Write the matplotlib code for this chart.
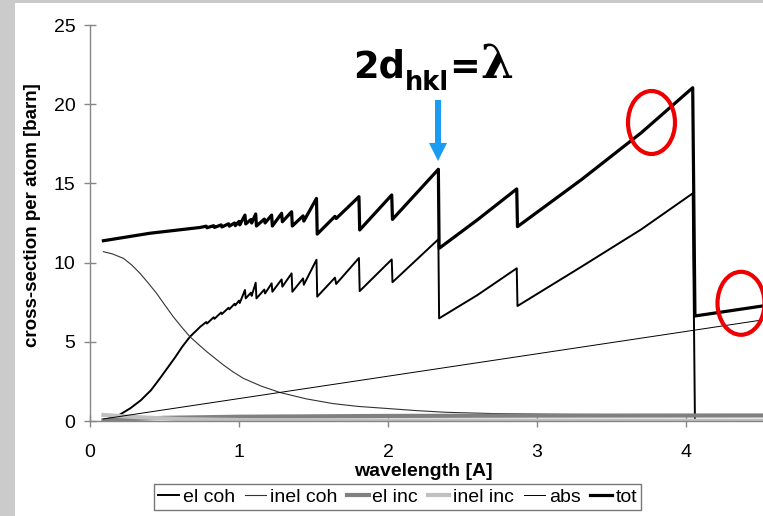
import numpy as np
import matplotlib
matplotlib.use("Agg")
import matplotlib.pyplot as plt
from matplotlib.patches import Ellipse, Rectangle

plt.rcParams['font.family'] = ['Liberation Sans', 'DejaVu Sans']

# wavelength [A] / cross-section [barn]
tot_x = [0.09, 0.40, 0.74, 0.78, 0.785, 0.83, 0.835, 0.88, 0.885, 0.93, 0.935, 0.97, 0.975,
         1.00, 1.005, 1.04, 1.045, 1.08, 1.085, 1.112, 1.117, 1.17, 1.175, 1.219, 1.224,
         1.286, 1.291, 1.353, 1.358, 1.43, 1.435, 1.52, 1.525, 1.644, 1.652, 1.805, 1.81,
         2.025, 2.03, 2.338, 2.343, 2.6, 2.864, 2.869, 3.3, 3.7, 4.045, 4.06, 4.52]
tot_y = [11.38, 11.85, 12.22, 12.3, 12.2, 12.33, 12.22, 12.38, 12.25, 12.45, 12.3, 12.5, 12.33,
         12.6, 12.38, 13.0, 12.44, 12.72, 12.5, 13.07, 12.31, 12.75, 12.5, 13.0, 12.31,
         13.11, 12.58, 13.21, 12.31, 12.95, 12.62, 14.05, 11.8, 12.92, 12.78, 14.16, 12.06,
         14.27, 12.73, 15.89, 10.9, 12.7, 14.65, 12.27, 15.25, 18.2, 21.04, 6.63, 7.27]

elcoh_x = [0.09, 0.2, 0.27, 0.34, 0.41, 0.47, 0.52, 0.57, 0.62, 0.671, 0.74, 0.78, 0.785, 0.83,
           0.835, 0.88, 0.885, 0.93, 0.935, 0.97, 0.975, 1.00, 1.005, 1.04, 1.045, 1.08, 1.085,
           1.112, 1.117, 1.17, 1.175, 1.219, 1.224, 1.286, 1.291, 1.353, 1.358, 1.43, 1.435,
           1.52, 1.525, 1.644, 1.652, 1.805, 1.81, 2.025, 2.03, 2.338, 2.343, 2.6, 2.864,
           2.869, 3.3, 3.7, 4.045, 4.06, 4.52]
elcoh_y = [0.02, 0.4, 0.8, 1.3, 1.95, 2.7, 3.35, 4.0, 4.7, 5.32, 5.95, 6.25, 6.15, 6.55,
           6.45, 6.85, 6.75, 7.15, 7.05, 7.4, 7.3, 7.6, 7.45, 8.27, 7.74, 8.1, 7.9,
           8.73, 7.74, 8.3, 8.05, 8.69, 8.16, 8.94, 8.48, 9.32, 8.16, 9.0, 8.6,
           10.18, 7.85, 9.05, 8.65, 10.29, 8.2, 10.2, 8.76, 11.47, 6.48, 7.95, 9.64,
           7.26, 9.75, 12.1, 14.37, 0.0, 0.0]

inelcoh_x = [0.09, 0.15, 0.224, 0.28, 0.336, 0.39, 0.447, 0.5, 0.559, 0.615, 0.671, 0.73,
             0.783, 0.84, 0.895, 0.96, 1.03, 1.15, 1.275, 1.45, 1.63, 1.8, 1.95, 2.2, 2.39,
             2.7, 3.15, 4.52]
inelcoh_y = [10.69, 10.55, 10.27, 9.85, 9.32, 8.72, 8.06, 7.35, 6.58, 5.93, 5.32, 4.82,
             4.38, 3.95, 3.54, 3.1, 2.69, 2.2, 1.8, 1.4, 1.1, 0.92, 0.82, 0.65, 0.55,
             0.47, 0.42, 0.36]

elinc_x = [0.09, 0.5, 1.0, 2.0, 3.0, 4.52]
elinc_y = [0.05, 0.2, 0.27, 0.32, 0.34, 0.35]

inelinc_x = [0.09, 0.3, 0.6, 1.0, 2.0, 4.52]
inelinc_y = [0.38, 0.25, 0.12, 0.06, 0.03, 0.02]

abs_x = [0.09, 4.52]
abs_y = [0.13, 6.39]

fig = plt.figure(figsize=(7.63, 5.16), dpi=100)
fig.patch.set_facecolor('#cbcbcb')
fig.patches.append(Rectangle((15/763, 0), 1, 1 - 3/516, transform=fig.transFigure,
                             facecolor='white', edgecolor='none', zorder=-1))

ax = fig.add_axes([90/763, 95/516, 673/763, 396/516])
ax.set_facecolor('none')

ax.plot(elcoh_x, elcoh_y, color='black', lw=1.4, label='el coh')
ax.plot(inelcoh_x, inelcoh_y, color='#333333', lw=0.8, label='inel coh')
ax.plot(elinc_x, elinc_y, color='#808080', lw=3, label='el inc')
ax.plot(inelinc_x, inelinc_y, color='#c0c0c0', lw=3, label='inel inc')
ax.plot(abs_x, abs_y, color='black', lw=0.7, label='abs')
ax.plot(tot_x, tot_y, color='black', lw=2.3, label='tot')

ax.set_xlim(0, 673/149)
ax.set_ylim(0, 25)
ax.set_xticks([0, 1, 2, 3, 4])
ax.set_yticks([0, 5, 10, 15, 20, 25])
for s in ['top', 'right']:
    ax.spines[s].set_visible(False)
for s in ['left', 'bottom']:
    ax.spines[s].set_color('#868686')
    ax.spines[s].set_linewidth(1)
ax.tick_params(direction='inout', length=9, width=1, color='#868686', labelsize=14, pad=6)
ax.tick_params(axis='x', pad=12)

ax.set_xlabel('wavelength [A]', fontsize=14, fontweight='bold', va='center')
ax.set_ylabel('cross-section per atom [barn]', fontsize=13.5, fontweight='bold')
ax.xaxis.set_label_coords(0.496, -(471 - 421)/396)
ax.yaxis.set_label_coords(-0.073, 0.52)

leg = ax.legend(loc='center', bbox_to_anchor=(397.5/763, 1 - 497/516),
                bbox_transform=fig.transFigure, ncol=6, fontsize=14, frameon=True,
                fancybox=False, handlelength=1.1, handletextpad=0.2, columnspacing=0.5,
                borderpad=0.2, borderaxespad=0)
leg.get_frame().set_edgecolor('#555555')
leg.get_frame().set_linewidth(1)

# 2d_hkl = lambda annotation
t1 = fig.text(353/763, 1 - 78/516, '2d', fontsize=26.5, fontweight='bold',
              family='DejaVu Sans', va='baseline')
t2 = ax.annotate('hkl', xy=(1, 516 - 90), xycoords=(t1, 'figure pixels'), fontsize=18.5,
                 fontweight='bold', family='DejaVu Sans', va='baseline', annotation_clip=False)
t3 = ax.annotate('=', xy=(1, 516 - 78), xycoords=(t2, 'figure pixels'), fontsize=26.5,
                 fontweight='bold', family='DejaVu Sans', va='baseline', annotation_clip=False)
ax.annotate('λ', xy=(1, 516 - 78), xycoords=(t3, 'figure pixels'), fontsize=34,
            fontweight='bold', family='DejaVu Serif', va='baseline', annotation_clip=False)

ax.annotate('', xy=((438 - 90)/149, (421 - 161)/15.84), xytext=((438 - 90)/149, (421 - 100)/15.84),
            arrowprops=dict(width=4.3, headwidth=13, headlength=13, shrink=0,
                            color='#1a9cf2', ec='none'), annotation_clip=False)

for cx, cy in [(651.5, 122.5), (741, 303.3)]:
    ax.add_patch(Ellipse(((cx - 90)/149, (421 - cy)/15.84), 47/149, 63/15.84,
                         facecolor='none', edgecolor='#ee0000', lw=3, clip_on=False, zorder=5))

fig.savefig('out.png', dpi=100, facecolor=fig.get_facecolor())
